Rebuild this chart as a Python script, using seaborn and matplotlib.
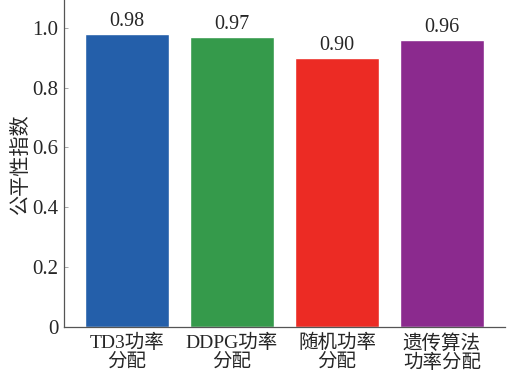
import matplotlib
matplotlib.use("Agg")
import matplotlib.pyplot as plt
import seaborn as sns
import pandas as pd

categories = ["TD3功率\n分配", "DDPG功率\n分配", "随机功率\n分配", "遗传算法\n功率分配"]
values = [0.98, 0.97, 0.90, 0.96]
colors = ["#245FAA", "#359A4B", "#EC2B24", "#8B2A8E"]
yticks = [0, 0.2, 0.4, 0.6, 0.8, 1.0]
ytick_labels = ["0", "0.2", "0.4", "0.6", "0.8", "1.0"]

sns.set_style("ticks")
plt.rcParams["font.family"] = ["Liberation Serif", "Noto Sans CJK SC"]

df = pd.DataFrame({"method": categories, "value": values})

fig = plt.figure(figsize=(5.14, 3.73), dpi=100)
ax = fig.add_axes([64 / 514, 46 / 373, 441 / 514, 327 / 373])
sns.barplot(data=df, x="method", y="value", hue="method", palette=colors,
            width=0.8, legend=False, ax=ax, saturation=1)

for i, v in enumerate(values):
    ax.text(i, v + 0.008, f"{v:.2f}", ha="center", va="bottom", fontsize=14.5)

ax.set_xlim(-0.6, 3.6)
ax.set_ylim(0, 1.093)
ax.set_yticks(yticks)
ax.set_yticklabels(ytick_labels, fontsize=15)
ax.tick_params(axis="y", direction="in", length=3, width=0.6, color="#999999", pad=4)
ax.tick_params(axis="x", length=0, labelsize=14, pad=5)
ax.set_xlabel("")
ax.set_ylabel("公平性指数", fontsize=14.5, labelpad=1)
for lbl in ax.get_xticklabels():
    lbl.set_linespacing(1.1)
for s in ["top", "right"]:
    ax.spines[s].set_visible(False)
for s in ["left", "bottom"]:
    ax.spines[s].set_color("#555555")
    ax.spines[s].set_linewidth(0.9)

fig.savefig("out.png", dpi=100)
